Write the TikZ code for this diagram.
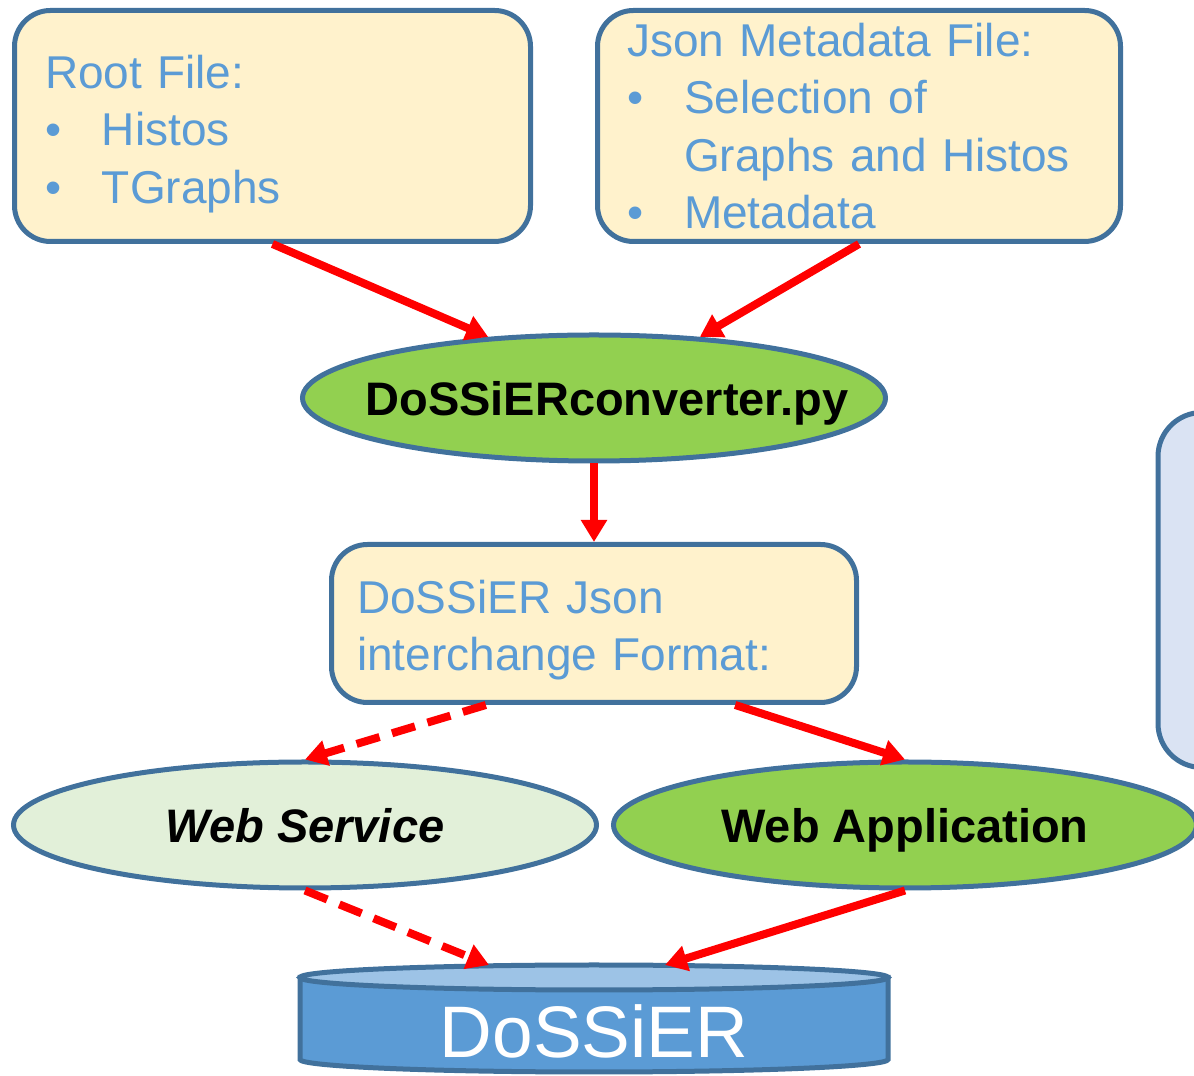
\documentclass[tikz,border=0pt]{standalone}
\usepackage{fontspec}
\setmainfont{Liberation Sans}
\usetikzlibrary{arrows.meta,shapes.geometric,backgrounds}

\definecolor{boxyellow}{HTML}{FFF2CC}
\definecolor{edgeblue}{HTML}{41719C}
\definecolor{textblue}{HTML}{5B9BD5}
\definecolor{convgreen}{HTML}{92D050}
\definecolor{palegreen}{HTML}{E2F0D9}
\definecolor{lavender}{HTML}{DAE3F3}
\definecolor{dbblue}{HTML}{5B9BD5}
\definecolor{dbtop}{HTML}{9DC3E6}

\newcommand{\itemdot}{\makebox[57pt][l]{\textbullet}}

\begin{document}
\begin{tikzpicture}[x=1pt,y=1pt,
  box/.style={rectangle, rounded corners=36pt, draw=edgeblue, line width=5pt,
    fill=boxyellow, text=textblue, align=left, inner sep=0pt,
    font=\fontsize{46}{57.5}\selectfont},
  blob/.style={ellipse, draw=edgeblue, line width=5pt, minimum width=583pt,
    minimum height=126pt, inner xsep=-60pt, inner ysep=0pt, text depth=0pt,
    font=\fontsize{47}{56}\selectfont\bfseries},
  flow/.style={draw=red, line width=8pt, -{Triangle[length=22pt,width=25pt]}},
  dflow/.style={flow, dash pattern=on 24pt off 13pt},
  can/.style={draw=edgeblue, line width=5pt}]
  \useasboundingbox (0,0) rectangle (1194,1076);
  \clip (0,0) rectangle (1194,1076);

  \node (root) [box, minimum width=516pt, minimum height=231pt, text width=455pt] at (272.5,950)
    {\rule{0pt}{49pt}Root File:\\ \itemdot Histos\\ \itemdot TGraphs};
  \node (json) [box, minimum width=523pt, minimum height=231pt, text width=464pt] at (859,950)
    {Json Metadata File:\\ \itemdot Selection of\\ \hspace*{57pt}Graphs and Histos\\ \itemdot Metadata};

  \node (conv) [blob, fill=convgreen] at (594,678) {\hspace*{26pt}DoSSiERconverter.py};

  \node (mid) [box, minimum width=525pt, minimum height=158pt, text width=474pt] at (594,452.5)
    {\rule{0pt}{47pt}DoSSiER Json\\ interchange Format:};

  \node (side) [box, fill=lavender, rounded corners=44pt, minimum width=300pt, minimum height=355pt] at (1308,486) {};

  \node (ws) [blob, fill=palegreen] at (305,251) {\itshape Web Service};
  \node (wa) [blob, fill=convgreen] at (905,251) {Web Application};

  \node (db) [rectangle, minimum width=588pt, minimum height=107pt, inner sep=0pt, outer sep=0pt,
    text=white, text height=79pt, font=\fontsize{73}{80}\selectfont] at (594,57.5) {DoSSiER};
  \begin{scope}[on background layer]
    \filldraw[can, fill=dbblue] ([yshift=-12.5pt]db.north west) -- ([yshift=12.5pt]db.south west)
      arc[start angle=180, end angle=360, x radius=294pt, y radius=12.5pt]
      -- ([yshift=-12.5pt]db.north east) -- cycle;
    \filldraw[can, fill=dbtop] ([yshift=-12.5pt]db.north) ellipse[x radius=294pt, y radius=12.5pt];
  \end{scope}

  \foreach \from/\to in {root.south/conv.150, json.south/conv.30, conv.south/mid.north,
                         mid.330/wa.north, wa.south/db.37}
    \draw[flow] (\from) -- (\to);
  \foreach \from/\to in {mid.217/ws.north, ws.south/db.153}
    \draw[dflow] (\from) -- (\to);
\end{tikzpicture}
\end{document}
